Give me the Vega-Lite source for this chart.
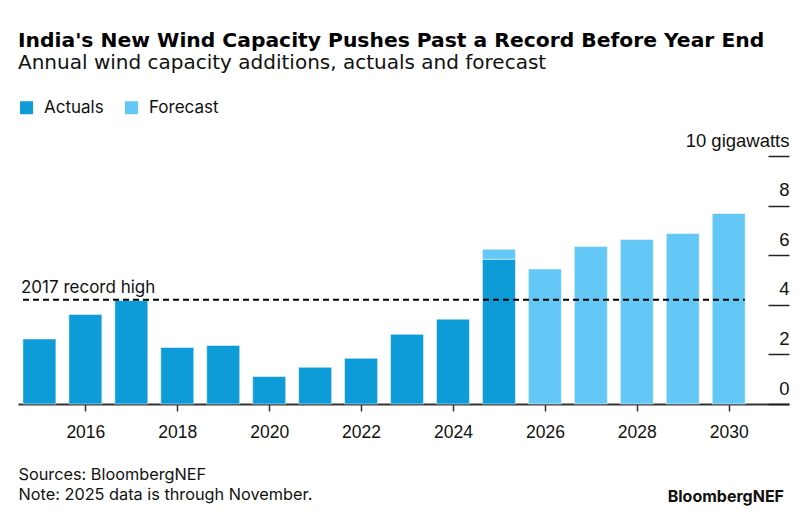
{
  "$schema": "https://vega.github.io/schema/vega-lite/v6.json",
  "width": 771,
  "height": 248,
  "autosize": "none",
  "padding": {"left": 18, "top": 156, "right": 23, "bottom": 116},
  "background": "white",
  "config": {"font": "Inter", "view": {"stroke": null}},
  "title": {
    "text": "India's New Wind Capacity Pushes Past a Record Before Year End",
    "subtitle": "Annual wind capacity additions, actuals and forecast",
    "anchor": "start",
    "frame": "group",
    "font": "DejaVu Sans",
    "fontSize": 20.3,
    "fontWeight": "bold",
    "color": "#000000",
    "subtitleFont": "DejaVu Sans",
    "subtitleFontSize": 20,
    "subtitleColor": "#111111",
    "subtitlePadding": 2,
    "offset": 26
  },
  "datasets": {
    "wind": [
      {"year": 2015, "type": "Actuals", "value": 2.62},
      {"year": 2016, "type": "Actuals", "value": 3.61},
      {"year": 2017, "type": "Actuals", "value": 4.17},
      {"year": 2018, "type": "Actuals", "value": 2.28},
      {"year": 2019, "type": "Actuals", "value": 2.36},
      {"year": 2020, "type": "Actuals", "value": 1.11},
      {"year": 2021, "type": "Actuals", "value": 1.48},
      {"year": 2022, "type": "Actuals", "value": 1.84},
      {"year": 2023, "type": "Actuals", "value": 2.81},
      {"year": 2024, "type": "Actuals", "value": 3.42},
      {"year": 2025, "type": "Actuals", "value": 5.84},
      {"year": 2025, "type": "Forecast", "value": 0.40},
      {"year": 2026, "type": "Forecast", "value": 5.44},
      {"year": 2027, "type": "Forecast", "value": 6.35},
      {"year": 2028, "type": "Forecast", "value": 6.63},
      {"year": 2029, "type": "Forecast", "value": 6.87},
      {"year": 2030, "type": "Forecast", "value": 7.68}
    ],
    "record": [
      {"start": 2014.643, "end": 2030.35, "level": 4.2, "label": "2017 record high"}
    ],
    "brand": [
      {"x": 2031.203, "y": -3.95, "label": "BloombergNEF"}
    ]
  },
  "layer": [
    {
      "data": {"name": "wind"},
      "mark": {"type": "bar", "width": 33, "stroke": "#ffffff", "strokeWidth": 0.5},
      "encoding": {
        "x": {
          "field": "year",
          "type": "quantitative",
          "scale": {"domain": [2014.643, 2031.203], "nice": false, "zero": false},
          "axis": {
            "values": [2016, 2018, 2020, 2022, 2024, 2026, 2028, 2030],
            "format": "d",
            "grid": false,
            "domainColor": "#333333",
            "domainWidth": 2,
            "tickColor": "#333333",
            "tickWidth": 1.5,
            "tickSize": 7,
            "labelFont": "Liberation Sans",
            "labelFontSize": 17.5,
            "labelColor": "#111111",
            "labelPadding": 12,
            "labelFlush": false,
            "title": ["Sources: BloombergNEF", "Note: 2025 data is through November."],
            "titleFont": "Inter",
            "titleFontSize": 16.3,
            "titleFontWeight": "normal",
            "titleColor": "#111111",
            "titleAnchor": "start",
            "titleAlign": "left",
            "titleBaseline": "top",
            "titleX": 0,
            "titleY": 62,
            "titleLineHeight": 20
          }
        },
        "y": {
          "field": "value",
          "type": "quantitative",
          "aggregate": "sum",
          "stack": "zero",
          "scale": {"domain": [0, 10], "nice": false},
          "axis": {
            "orient": "right",
            "values": [0, 2, 4, 6, 8, 10],
            "domain": false,
            "grid": false,
            "tickSize": -21,
            "tickColor": "#222222",
            "tickWidth": 1.5,
            "labelPadding": 21,
            "labelAlign": "right",
            "labelBaseline": "alphabetic",
            "labelOffset": -10,
            "labelFont": "Liberation Sans",
            "labelFontSize": 18.5,
            "labelColor": "#111111",
            "labelExpr": "datum.value == 10 ? '10 gigawatts' : datum.label",
            "title": null
          }
        },
        "color": {
          "field": "type",
          "type": "nominal",
          "scale": {"domain": ["Actuals", "Forecast"], "range": ["#0E9CD9", "#63C8F6"]},
          "legend": {
            "orient": "none",
            "legendX": 0,
            "legendY": -57,
            "direction": "horizontal",
            "title": null,
            "symbolType": "square",
            "symbolSize": 169,
            "symbolStrokeWidth": 0,
            "labelFont": "Inter",
            "labelFontSize": 17,
            "labelColor": "#111111",
            "labelOffset": 9,
            "columnPadding": 19
          }
        },
        "order": {"field": "type", "sort": "ascending"}
      }
    },
    {
      "data": {"name": "record"},
      "mark": {"type": "rule", "strokeDash": [6, 4], "strokeWidth": 2, "color": "#000000"},
      "encoding": {
        "x": {"field": "start", "type": "quantitative"},
        "x2": {"field": "end"},
        "y": {"field": "level", "type": "quantitative"}
      }
    },
    {
      "data": {"name": "record"},
      "mark": {"type": "text", "align": "left", "baseline": "alphabetic", "dy": -7, "dx": -2, "fontSize": 17, "font": "Inter", "color": "#111111"},
      "encoding": {
        "x": {"field": "start", "type": "quantitative"},
        "y": {"field": "level", "type": "quantitative"},
        "text": {"field": "label"}
      }
    },
    {
      "data": {"name": "brand"},
      "mark": {"type": "text", "align": "right", "baseline": "alphabetic", "fontSize": 16, "fontWeight": "bold", "font": "Inter", "color": "#111111"},
      "encoding": {
        "x": {"field": "x", "type": "quantitative"},
        "y": {"field": "y", "type": "quantitative"},
        "text": {"field": "label"}
      }
    }
  ]
}
